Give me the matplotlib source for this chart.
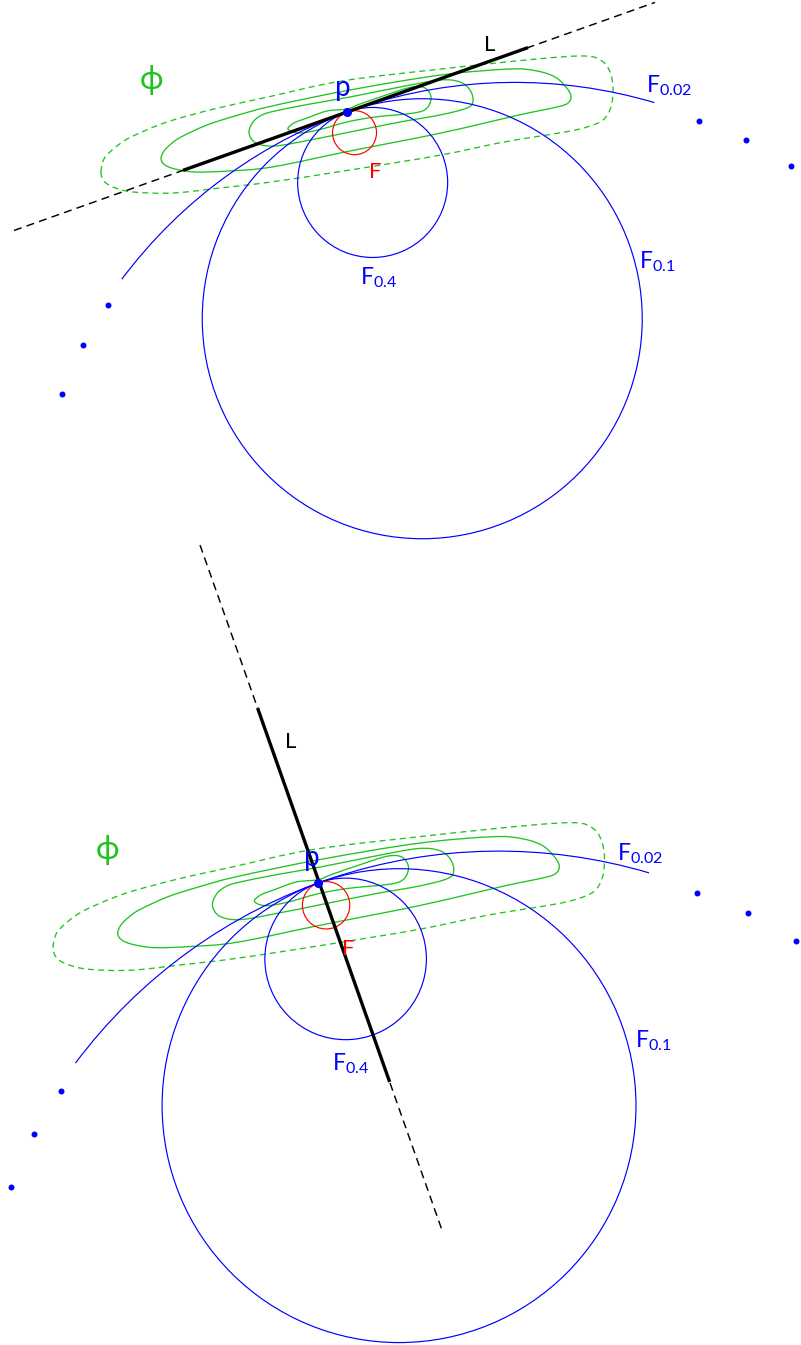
import numpy as np
import matplotlib
matplotlib.use("Agg")
import matplotlib.pyplot as plt
from matplotlib.path import Path
from matplotlib.patches import PathPatch, Circle, Arc

plt.rcParams['font.family'] = ['Lato', 'DejaVu Sans']
plt.rcParams['mathtext.default'] = 'regular'

# ---------------- data (model coordinates, relative to the point p, top-panel pixel scale) ----
# panels: position of p and scale factor
panel_p = [(347, 112), (318, 883)]
panel_scale = [1.0, 1.077]

# level sets of phi (closed curves), relative to p
phi_outer_dashed = [(-246, 60), (-243, 47), (-236, 39), (-226, 31), (-214, 24), (-180, 10),
                    (-133, -3), (-79, -15), (-5, -31), (94, -43), (190, -53), (238, -56),
                    (255, -51), (263, -40), (266, -24), (264, -5), (256, 8), (240, 15),
                    (218, 20), (157, 30), (94, 43), (3, 58), (-76, 70), (-127, 76),
                    (-174, 81), (-214, 80), (-234, 75), (-243, 69)]
phi_level2 = [(-186, 47), (-183, 39), (-176, 32), (-166, 25), (-140, 13), (-112, 4), (-75, -6),
              (3, -22), (94, -37), (163, -43), (190, -41), (208, -35), (219, -25), (224, -16),
              (221, -9), (210, -5), (172, 3), (94, 21), (3, 39), (-75, 55), (-119, 59),
              (-152, 60), (-172, 57), (-182, 53)]
phi_level3 = [(-98, 21), (-94, 10), (-85, 3), (-72, -1), (-37, -8), (3, -15), (53, -25),
              (93, -32), (113, -30), (123, -22), (126, -11), (120, -4), (93, 3), (53, 10),
              (3, 20), (-37, 28), (-72, 34), (-91, 31)]
phi_level4 = [(-59, 17), (-53, 11), (-40, 6), (-20, -1), (0, -3), (13, -8), (42, -18), (65, -25),
              (78, -24), (84, -15), (80, -4), (67, 1), (28, 5), (0, 10), (-29, 18), (-49, 21)]

# circles tangent at p: radii (centre lies along the normal direction)
normal_angle_deg = 70.0
radius_F = 22          # red
radius_F04 = 75
radius_F01 = 220
radius_F002 = 491      # drawn as an arc
arc_F002_deg = (216.8, 286.5)

# sequence dots, relative to p
dots_right = [(352, 9), (399, 28), (444, 54)]
dots_left = [(-239, 193), (-264, 233), (-285, 282)]

# line L per panel: dashed extent (absolute pixels) and the fraction range drawn thick
L_dashed = [[(14, 230.5), (655, 2.4)], [(200, 545), (443, 1233)]]
L_solid_frac = [(0.2637, 0.8019), (0.2369, 0.7805)]

# labels per panel: (text, x, y, ha, colour, size)
labels = [
    [("ϕ", 152, 89, 'center', 'g', 23), ("p", 343, 96, 'center', 'b', 20),
     ("L", 490, 51, 'center', 'k', 16), ("F", 375, 178, 'center', 'r', 16),
     (r"$F_{0.4}$", 360, 284, 'left', 'b', 16.5), (r"$F_{0.1}$", 639, 268, 'left', 'b', 16.5),
     (r"$F_{0.02}$", 646, 92, 'left', 'b', 16.5)],
    [("ϕ", 108, 859, 'center', 'g', 23), ("p", 312, 866, 'center', 'b', 20),
     ("L", 291, 748, 'center', 'k', 16), ("F", 348, 955, 'center', 'r', 16),
     (r"$F_{0.4}$", 332, 1070, 'left', 'b', 16.5), (r"$F_{0.1}$", 635, 1047, 'left', 'b', 16.5),
     (r"$F_{0.02}$", 617, 860, 'left', 'b', 16.5)],
]

GREEN = '#1fc41f'
BLUE = '#0000ff'
RED = '#ff0000'
colors = {'g': GREEN, 'b': BLUE, 'r': RED, 'k': 'black'}

# ---------------- drawing ----------------
fig = plt.figure(figsize=(8.01, 13.45), dpi=100)
ax = fig.add_axes([0, 0, 1, 1])
ax.set_xlim(0, 801)
ax.set_ylim(1345, 0)
ax.axis('off')


def closed_smooth_path(pts):
    P = np.asarray(pts, float)
    n = len(P)
    verts = [P[0]]
    codes = [Path.MOVETO]
    for i in range(n):
        p0, p1, p2, p3 = P[i - 1], P[i], P[(i + 1) % n], P[(i + 2) % n]
        c1 = p1 + (p2 - p0) / 6.0
        c2 = p2 - (p3 - p1) / 6.0
        verts += [c1, c2, p2]
        codes += [Path.CURVE4] * 3
    return Path(verts, codes)


ua = np.deg2rad(normal_angle_deg)
u = np.array([np.cos(ua), np.sin(ua)])

for k in range(2):
    p = np.array(panel_p[k], float)
    s = panel_scale[k]

    def tr(pts):
        return [tuple(p + s * np.array(q, float)) for q in pts]

    # phi level sets
    ax.add_patch(PathPatch(closed_smooth_path(tr(phi_outer_dashed)), fill=False, ec=GREEN,
                           lw=0.95, ls=(0, (4.5, 3.2)), zorder=2))
    for lv in (phi_level2, phi_level3, phi_level4):
        ax.add_patch(PathPatch(closed_smooth_path(tr(lv)), fill=False, ec=GREEN, lw=0.95, zorder=2))

    # circles
    for r, col in ((radius_F04, BLUE), (radius_F01, BLUE), (radius_F, RED)):
        c = p + s * r * u
        ax.add_patch(Circle(c, s * r, fill=False, ec=col, lw=0.85, zorder=3))
    c = p + s * radius_F002 * u
    ax.add_patch(Arc(c, 2 * s * radius_F002, 2 * s * radius_F002, theta1=arc_F002_deg[0],
                     theta2=arc_F002_deg[1], ec=BLUE, lw=0.85, zorder=3))

    # line L
    a = np.array(L_dashed[k][0], float)
    b = np.array(L_dashed[k][1], float)
    ax.plot([a[0], b[0]], [a[1], b[1]], color='black', lw=1.05, ls=(0, (5.5, 3.6)), zorder=4)
    f0, f1 = L_solid_frac[k]
    s0 = a + f0 * (b - a)
    s1 = a + f1 * (b - a)
    ax.plot([s0[0], s1[0]], [s0[1], s1[1]], color='black', lw=2.4, solid_capstyle='butt', zorder=5)

    # dots
    d = np.array(tr(dots_right + dots_left))
    ax.plot(d[:, 0], d[:, 1], 'o', color=BLUE, ms=4.3, mec='none', zorder=6)
    ax.plot([p[0]], [p[1]], 'o', color=BLUE, ms=6.5, mec='none', zorder=7)

    for (t, x, y, ha, col, sz) in labels[k]:
        ax.text(x, y, t, ha=ha, va='baseline', color=colors[col], fontsize=sz, zorder=8)

fig.savefig('out.png', dpi=100)
